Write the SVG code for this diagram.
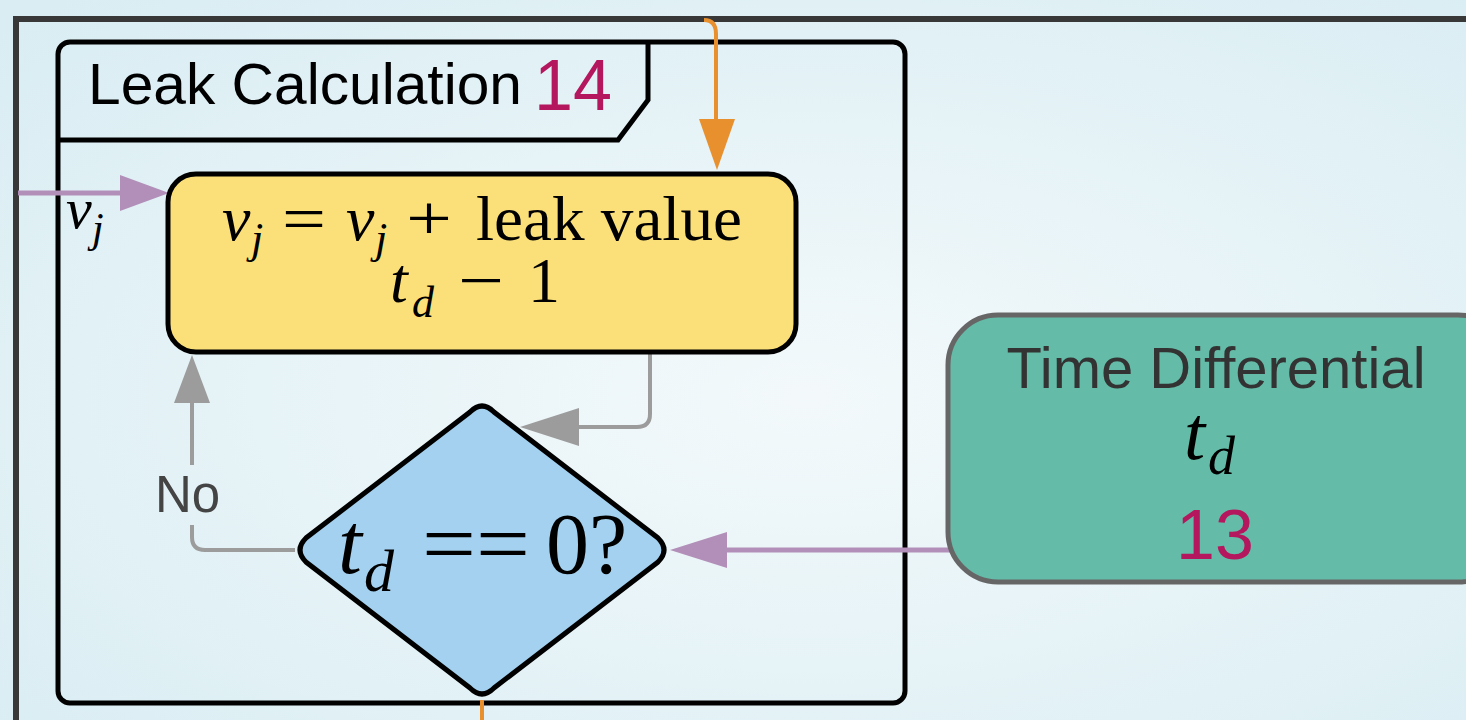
<svg xmlns="http://www.w3.org/2000/svg" width="1466" height="720" viewBox="0 0 1466 720">
<defs>
<radialGradient id="bg" cx="0.55" cy="0.55" r="0.75">
<stop offset="0" stop-color="#f3f9fb"/>
<stop offset="1" stop-color="#d9edf3"/>
</radialGradient>
<style>
.box{stroke:#000;stroke-width:5}
.math{font-family:"Liberation Serif","Times New Roman",serif;fill:#000}
.it{font-style:italic}
.sans{font-family:"Liberation Sans",Arial,sans-serif}
.num{font-family:"Liberation Sans",Arial,sans-serif;fill:#b5175e}
.gray{stroke:#9c9c9c;stroke-width:4;fill:none}
.purple{stroke:#b28fb8;stroke-width:5;fill:none}
.orange{stroke:#e8902e;stroke-width:4;fill:none}
</style>
</defs>
<rect x="0" y="0" width="1466" height="720" fill="url(#bg)"/>
<rect id="frame" x="16" y="19" width="1470" height="720" fill="none" stroke="#383838" stroke-width="6"/>

<g id="leak-calculation">
<rect x="58" y="42" width="847" height="661" rx="12" fill="none" class="box"/>
<path d="M58,140 L618,140 L648,100 L648,42" fill="none" class="box"/>
<text x="88" y="104" class="sans" font-size="58" fill="#000" textLength="434" lengthAdjust="spacingAndGlyphs">Leak Calculation</text>
<text x="534" y="110" class="num" font-size="72" textLength="78" lengthAdjust="spacingAndGlyphs">14</text>
</g>

<g id="connectors">
<path class="orange" d="M704,20 Q716,20 716,34 L716,122"/>
<path d="M699,119 L735,119 L717,170 Z" fill="#e8902e"/>
<path class="orange" d="M482,700 L482,720"/>
<path class="purple" d="M18,193 L122,193"/>
<path d="M120,175 L169,193 L120,211 Z" fill="#b28fb8"/>
<path class="purple" d="M962,550 L724,550"/>
<path d="M727,532 L670,550 L727,568 Z" fill="#b28fb8"/>
<path class="gray" d="M650,353 L650,414 Q650,427 637,427 L578,427"/>
<path d="M579,408 L520,427 L579,446 Z" fill="#9c9c9c"/>
<path class="gray" d="M295,550 L205,550 Q192,550 192,537 L192,525"/>
<path class="gray" d="M192,465 L192,400"/>
<path d="M174,403 L192,355 L210,403 Z" fill="#9c9c9c"/>
<text x="155" y="512" class="sans" font-size="51" fill="#444">No</text>
<text x="66" y="228" class="math it" font-size="58">v<tspan font-size="42" x="92" dy="14">j</tspan></text>
</g>

<g id="leak-update">
<rect x="168" y="174" width="628" height="178" rx="28" fill="#fbe07a" class="box"/>
<text x="222" y="240" class="math" font-size="64"><tspan class="it">v</tspan><tspan class="it" font-size="44" x="251" dy="13">j</tspan><tspan x="282" dy="-13" textLength="44" lengthAdjust="spacingAndGlyphs">=</tspan><tspan class="it" x="346">v</tspan><tspan class="it" font-size="44" x="375" dy="13">j</tspan><tspan x="406" dy="-13" textLength="46" lengthAdjust="spacingAndGlyphs">+</tspan><tspan x="476" textLength="266" lengthAdjust="spacingAndGlyphs">leak value</tspan></text>
<text x="390" y="302" class="math" font-size="64"><tspan class="it">t</tspan><tspan class="it" font-size="44" x="412" dy="15">d</tspan><tspan x="458" dy="-15" textLength="46" lengthAdjust="spacingAndGlyphs">−</tspan><tspan x="528">1</tspan></text>
</g>

<g id="decision">
<path d="M470,412 Q482,400 494,412 L658,538 Q670,550 658,562 L494,688 Q482,700 470,688 L306,562 Q294,550 306,538 Z" fill="#a3d1ef" class="box"/>
<text x="338" y="573" class="math" font-size="86"><tspan class="it">t</tspan><tspan class="it" font-size="60" x="364" dy="18">d</tspan><tspan dy="-18" x="422" textLength="108" lengthAdjust="spacingAndGlyphs">==</tspan><tspan x="546">0?</tspan></text>
</g>

<g id="time-differential">
<rect x="948" y="315" width="560" height="267" rx="50" fill="#64bca8" stroke="#666" stroke-width="5"/>
<text x="1216" y="388" class="sans" font-size="58" fill="#333" text-anchor="middle">Time Differential</text>
<text x="1184" y="459" class="math" font-size="76"><tspan class="it">t</tspan><tspan class="it" font-size="54" x="1208" dy="15">d</tspan></text>
<text x="1215" y="559" class="num" font-size="70" text-anchor="middle">13</text>
</g>
</svg>
